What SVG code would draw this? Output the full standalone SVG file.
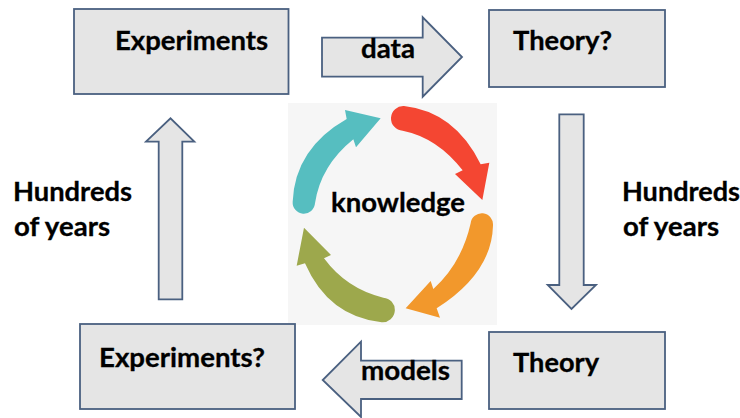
<svg xmlns="http://www.w3.org/2000/svg" width="740" height="418" viewBox="0 0 740 418">
<style>
.box{fill:#e5e5e5;stroke:#4a6080;stroke-width:1.8}
.t{font-family:"Lato","Open Sans","Liberation Sans",sans-serif;font-weight:700;font-size:26px;fill:#000000;stroke:#000000;stroke-width:0.3}
</style>
<rect width="740" height="418" fill="#ffffff"/>
<g id="cycle">
<rect x="288" y="103" width="209" height="222" fill="#f6f6f6"/>
<g transform="translate(280 95) scale(0.33333)">
<path fill="#f44632" d="M372,33 Q525,50 602,208 L628,203 L607,315 L525,237 L548,226 Q472,128 368,107 A37,37 0 0 1 372,33Z"/>
<path fill="#f2982c" d="M639,392 Q635,535 470,640 L480,668 L377,640 L452,558 L460,582 Q545,505 572,385 A33,33 0 0 1 639,392Z"/>
<path fill="#9da84c" d="M75,505 L50,512 L72,398 L153,480 L132,490 Q200,582 310,608 A37,37 0 0 1 305,682 Q145,665 75,505Z"/>
<path fill="#56bec0" d="M38,320 Q45,160 200,72 L195,45 L302,70 L228,157 L220,133 Q122,212 105,325 A33,33 0 0 1 38,320Z"/>
</g>
<text class="t" x="331" y="212" textLength="134" lengthAdjust="spacingAndGlyphs">knowledge</text>
</g>
<g id="connectors">
<path class="box" d="M322,37.700H422.700V17.300L462,57L422.700,96.700V76.700H322Z"/>
<path class="box" d="M559.300,114.300H583.700V285H596L571.500,309L547.700,285H559.300Z"/>
<path class="box" d="M461.700,360.700H361V341.700L322.700,380L361,417V399H461.700Z"/>
<path class="box" d="M158.700,299.300H182.300V141.700H194.300L170.500,118.300L146,141.700H158.700Z"/>
</g>
<g id="experiments"><rect class="box" x="74" y="9" width="214.500" height="85"/><text class="t" x="115" y="50" textLength="153" lengthAdjust="spacingAndGlyphs">Experiments</text></g>
<g id="theory-q"><rect class="box" x="489" y="10" width="176" height="77"/><text class="t" x="513" y="50" textLength="99" lengthAdjust="spacingAndGlyphs">Theory?</text></g>
<g id="theory"><rect class="box" x="489" y="332" width="176" height="77"/><text class="t" x="513" y="372" textLength="86" lengthAdjust="spacingAndGlyphs">Theory</text></g>
<g id="experiments-q"><rect class="box" x="80" y="324" width="215" height="85"/><text class="t" x="99" y="367" textLength="166" lengthAdjust="spacingAndGlyphs">Experiments?</text></g>
<g id="labels">
<text class="t" x="361" y="58" textLength="54" lengthAdjust="spacingAndGlyphs">data</text>
<text class="t" x="361" y="380" textLength="89" lengthAdjust="spacingAndGlyphs">models</text>
<text class="t" x="13" y="201" textLength="119" lengthAdjust="spacingAndGlyphs">Hundreds</text>
<text class="t" x="14" y="236" textLength="96" lengthAdjust="spacingAndGlyphs">of years</text>
<text class="t" x="622" y="201" textLength="118" lengthAdjust="spacingAndGlyphs">Hundreds</text>
<text class="t" x="623" y="236" textLength="96" lengthAdjust="spacingAndGlyphs">of years</text>
</g>
</svg>
